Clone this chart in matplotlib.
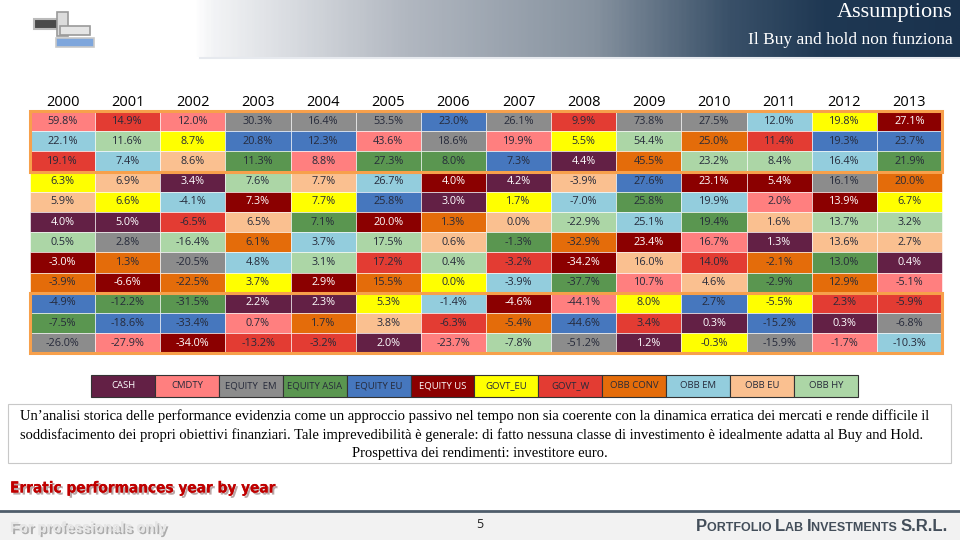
import numpy as np
import matplotlib
matplotlib.use("Agg")
from matplotlib import pyplot as plt
from matplotlib.patches import Rectangle
from matplotlib.colors import LinearSegmentedColormap
import matplotlib.patheffects as pe

# ─── Dati: rendimenti annui per asset class (%) ────────────────
years = list(range(2000, 2014))
classes = ["CASH", "CMDTY", "EQUITY  EM", "EQUITY ASIA", "EQUITY EU", "EQUITY US",
           "GOVT_EU", "GOVT_W", "OBB CONV", "OBB EM", "OBB EU", "OBB HY"]

cash        = [4.0, 5.0, 3.4, 2.2, 2.3, 2.0, 3.0, 4.2, 4.4, 1.2, 0.3, 1.3, 0.3, 0.4]
cmdty       = [59.8, -27.9, 12.0, 0.7, 8.8, 43.6, -23.7, 19.9, -44.1, 10.7, 16.7, 2.0, -1.7, -5.1]
equity_em   = [-26.0, 2.8, -20.5, 30.3, 16.4, 53.5, 18.6, 26.1, -51.2, 73.8, 27.5, -15.9, 16.1, -6.8]
equity_asia = [-7.5, -12.2, -31.5, 11.3, 7.1, 27.3, 8.0, -1.3, -37.7, 25.8, 19.4, -2.9, 13.0, 21.9]
equity_eu   = [-4.9, -18.6, -33.4, 20.8, 12.3, 25.8, 23.0, 7.3, -44.6, 27.6, 2.7, -15.2, 19.3, 23.7]
equity_us   = [-3.0, -6.6, -34.0, 7.3, 2.9, 20.0, 4.0, -4.6, -34.2, 23.4, 23.1, 5.4, 13.9, 27.1]
govt_eu     = [6.3, 6.6, 8.7, 3.7, 7.7, 5.3, 0.0, 1.7, 5.5, 8.0, -0.3, -5.5, 19.8, 6.7]
govt_w      = [19.1, 14.9, -6.5, -13.2, -3.2, 17.2, -6.3, -3.2, 9.9, 3.4, 14.0, 11.4, 2.3, -5.9]
obb_conv    = [-3.9, 1.3, -22.5, 6.1, 1.7, 15.5, 1.3, -5.4, -32.9, 45.5, 25.0, -2.1, 12.9, 20.0]
obb_em      = [22.1, 7.4, -4.1, 4.8, 3.7, 26.7, -1.4, -3.9, -7.0, 25.1, 19.9, 12.0, 16.4, -10.3]
obb_eu      = [5.9, 6.9, 8.6, 6.5, 7.7, 3.8, 0.6, 0.0, -3.9, 16.0, 4.6, 1.6, 13.6, 2.7]
obb_hy      = [0.5, 11.6, -16.4, 7.6, 3.1, 17.5, 0.4, -7.8, -22.9, 54.4, 23.2, 8.4, 13.7, 3.2]

series = [cash, cmdty, equity_em, equity_asia, equity_eu, equity_us,
          govt_eu, govt_w, obb_conv, obb_em, obb_eu, obb_hy]

colors = ["#632045", "#ff7f7f", "#8c8c8c", "#5a9650", "#4677be", "#8b0000",
          "#ffff00", "#e33c33", "#e46c0a", "#93cddd", "#fac090", "#acd6a6"]
white_txt = {0, 5}

text_lines = [
    "Un\u2019analisi storica delle performance evidenzia come un approccio passivo nel tempo non sia coerente con la dinamica erratica dei mercati e rende difficile il",
    "soddisfacimento dei propri obiettivi finanziari. Tale imprevedibilità è generale: di fatto nessuna classe di investimento è idealmente adatta al Buy and Hold.",
    "Prospettiva dei rendimenti: investitore euro.",
]

# ─── Figura in coordinate pixel ────────────────────────────────
fig = plt.figure(figsize=(9.6, 5.4), dpi=100)
ax = fig.add_axes([0, 0, 1, 1])
ax.set_xlim(0, 960)
ax.set_ylim(540, 0)
ax.axis("off")
renderer = fig.canvas.get_renderer()

# header sfumato
grad = np.linspace(0, 1, 400)[None, :]
cmap = LinearSegmentedColormap.from_list(
    "hdr", [(0, "#ffffff"), (0.2, "#ffffff"), (0.22, "#f3f4f6"), (0.42, "#b2b8c1"),
            (0.62, "#86929f"), (0.76, "#3a5169"), (0.86, "#1f3853"), (1, "#1a324d")])
ax.imshow(grad, extent=[0, 960, 57, 0], cmap=cmap, aspect="auto", zorder=0)
ax.plot([200, 960], [58, 58], color="#e6e9ee", lw=1.5)

# logo (approssimato)
ax.add_patch(Rectangle((34, 19), 26, 10, facecolor="#4a4a4a", edgecolor="#bbbbbb", lw=1.5, zorder=2))
ax.add_patch(Rectangle((57, 12), 11, 24, facecolor="#dcdcdc", edgecolor="#9a9a9a", lw=1.2, zorder=2))
ax.add_patch(Rectangle((60, 26), 30, 9, facecolor="#e5e5e5", edgecolor="#9a9a9a", lw=1.2, zorder=2))
ax.add_patch(Rectangle((56, 38), 38, 9, facecolor="#7ea6dc", edgecolor="#c8c8c8", lw=1.2, zorder=2))

ax.text(953, 12, "Assumptions", color="white", fontsize=16, ha="right", va="center",
        family="Liberation Serif")
ax.text(953, 40, "Il Buy and hold non funziona", color="white", fontsize=12.5, ha="right",
        va="center", family="Liberation Serif")

# ─── Tabella ────────────────────────────────────────────────────
x0, x1 = 30, 942
cw = (x1 - x0) / len(years)
y0, rh = 111, 20.2
nrows = len(classes)

for j, yr in enumerate(years):
    cx = x0 + cw * (j + 0.5)
    ax.text(cx, 102, str(yr), ha="center", va="center", fontsize=10.5,
            family="Open Sans", color="black")
    vals = [s[j] for s in series]
    order = sorted(range(nrows), key=lambda k: (-vals[k], -k))
    for r, k in enumerate(order):
        ax.add_patch(Rectangle((x0 + cw * j, y0 + rh * r), cw, rh, facecolor=colors[k],
                               edgecolor="white", lw=0.4, zorder=2))
        tc = "white" if k in white_txt else "#262a3a"
        ax.text(cx, y0 + rh * (r + 0.5), f"{vals[k]:.1f}%", ha="center", va="center",
                fontsize=7.8, family="Open Sans", color=tc, zorder=3)

orange = "#f7a04b"
ax.add_patch(Rectangle((x0, y0), x1 - x0, rh * 3, fill=False, edgecolor=orange, lw=2.2, zorder=4))
ax.add_patch(Rectangle((x0, y0 + rh * 9), x1 - x0, rh * 3, fill=False, edgecolor=orange, lw=2.2, zorder=4))

# ─── Legenda ────────────────────────────────────────────────────
lx0, lw_box = 91, 63.9
for k, name in enumerate(classes):
    ax.add_patch(Rectangle((lx0 + lw_box * k, 375), lw_box, 22, facecolor=colors[k],
                           edgecolor="#333333", lw=0.8, zorder=2))
    tc = "white" if k in white_txt else "#262a3a"
    ax.text(lx0 + lw_box * (k + 0.5), 386, name, ha="center", va="center", fontsize=6.8,
            family="Open Sans", color=tc, zorder=3)

# ─── Testo descrittivo ──────────────────────────────────────────
ax.add_patch(Rectangle((8, 404), 943, 59, facecolor="white", edgecolor="#c8c8c8", lw=0.8))
ax.text(20, 416, text_lines[0], ha="left", va="center", fontsize=10.5, family="Liberation Serif")
ax.text(20, 435, text_lines[1], ha="left", va="center", fontsize=10.5, family="Liberation Serif")
ax.text(480, 453, text_lines[2], ha="center", va="center", fontsize=10.5, family="Liberation Serif")

ax.text(10, 488, "Erratic performances year by year", ha="left", va="center", fontsize=11,
        fontweight="bold", color="#c00000", family="DejaVu Sans", fontstretch="condensed",
        path_effects=[pe.withSimplePatchShadow(offset=(1.5, -1.5), alpha=0.35), pe.Normal()])

# ─── Footer ─────────────────────────────────────────────────────
ax.add_patch(Rectangle((0, 511), 960, 29, facecolor="#f2f2f2", edgecolor="none"))
ax.plot([0, 960], [511, 511], color="#4f5d6b", lw=2)
ax.text(10, 528, "For professionals only", ha="left", va="center", fontsize=10.5,
        fontweight="bold", color="#e6e6e6", family="Liberation Sans",
        path_effects=[pe.withSimplePatchShadow(offset=(1.5, -1.5), alpha=0.4), pe.Normal()])
ax.text(480, 524, "5", ha="center", va="center", fontsize=9, family="Open Sans", color="#222222")

# maiuscoletto: lettere grandi e piccole affiancate, allineate a destra
footer = [("P", 12), ("ORTFOLIO ", 9), ("L", 12), ("AB ", 9), ("I", 12),
          ("NVESTMENTS ", 9), ("S.R.L.", 12)]
pieces = []
for txt, fs in footer:
    t = ax.text(0, 531, txt, fontsize=fs, fontweight="bold", color="#434e5a",
                family="Liberation Sans", va="baseline", ha="left")
    pieces.append((t, t.get_window_extent(renderer).width))
xpos = 948 - sum(w for _, w in pieces)
for t, w in pieces:
    t.set_x(xpos)
    xpos += w

fig.savefig("out.png", dpi=100)
